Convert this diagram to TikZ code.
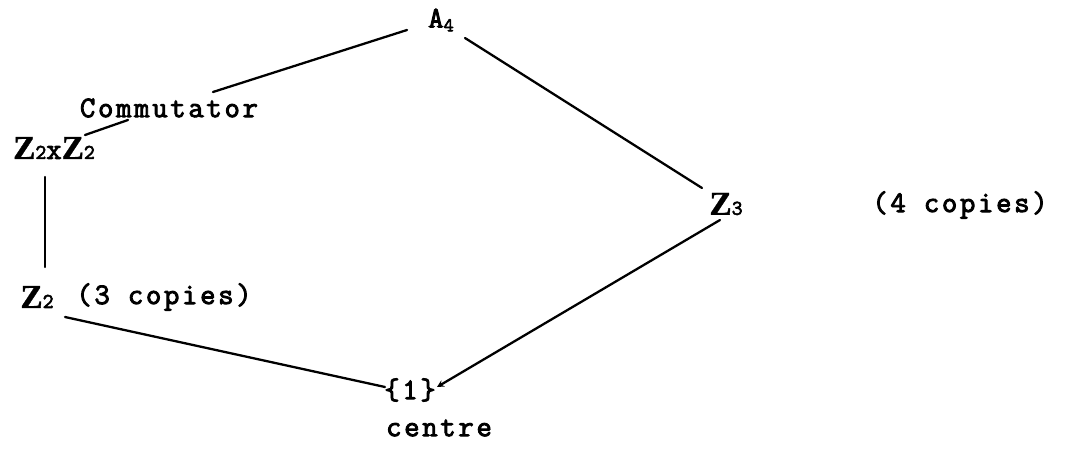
\documentclass[tikz,border=0pt]{standalone}
\usepackage{fontspec}
\newfontfamily\typer{Latin Modern Mono}[LetterSpace=9, FakeBold=3]
\newfontfamily\zface{Liberation Serif}[FakeBold=1]
\usetikzlibrary{arrows.meta, calc}
\newcommand{\Zsub}[1]{{\zface\bfseries\fontsize{19}{19}\selectfont Z}{\fontsize{12}{12}\selectfont #1}}
\tikzset{
    grp/.style={inner sep=0pt, font=\typer\fontsize{17}{19}\selectfont},
    note/.style={grp},
    link/.style={line width=1.3pt, line cap=round},
}

\begin{document}
\begin{tikzpicture}[x=0.02cm, y=-0.02cm]
\useasboundingbox (0,0) rectangle (1082,453);

\node[grp] (a4)   at (441,20)  {A\raisebox{-0.3ex}{\fontsize{11}{11}\selectfont 4}};
\node[grp] (comm) at (169,108) {Commutator};
\node[grp] (zz)   at (54,148)  {\Zsub{2}x\Zsub{2}};
\node[grp] (z2)   at (37,297)  {\Zsub{2}};
\node[note, anchor=west] (cp3) at (76,297) {(3 copies)};
\node[grp] (one)  at (410,390) {\{1\}};
\node[note] (ctr) at (439,428) {centre};
\node[grp] (z3)   at (726,204) {\Zsub{3}};
\node[note] (cp4) at (960,205) {(4 copies)};

\draw[link] ($(a4)+(-34,10)$) -- ($(comm)+(44,-16)$);
\draw[link] ($(comm)+(-41,12)$) -- ($(zz)+(31,-13)$);
\draw[link] ($(zz)+(-9,29)$) -- ($(z2)+(8,-30)$);
\draw[link] ($(z2)+(28,20)$) -- ($(one)+(-25,-3)$);
\draw[link, -{Stealth[length=4pt, width=4pt]}] ($(z3)+(-6,16)$) -- ($(one)+(27,-3)$);
\draw[link] ($(a4)+(24,18)$) -- ($(z3)+(-24,-16)$);

\end{tikzpicture}
\end{document}
